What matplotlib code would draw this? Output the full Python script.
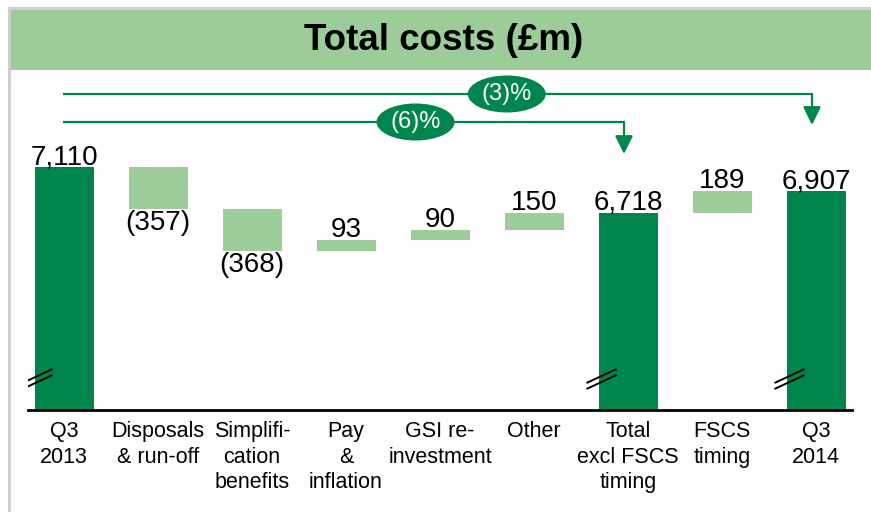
import matplotlib
matplotlib.use("Agg")
import matplotlib.pyplot as plt
from matplotlib.patches import Rectangle, Ellipse

plt.rcParams['font.family'] = ['Liberation Sans', 'DejaVu Sans']

# ---------------- data ----------------
categories = ["Q3\n2013", "Disposals\n& run-off", "Simplifi-\ncation\nbenefits",
              "Pay\n&\ninflation", "GSI re-\ninvestment", "Other",
              "Total\nexcl FSCS\ntiming", "FSCS\ntiming", "Q3\n2014"]
values = [7110, -357, -368, 93, 90, 150, 6718, 189, 6907]
is_total = [True, False, False, False, False, False, True, False, True]
value_labels = ["7,110", "(357)", "(368)", "93", "90", "150", "6,718", "189", "6,907"]
changes = [("(3)%", 0, 8), ("(6)%", 0, 6)]

DARK = "#00854c"
LIGHT = "#9dcd99"
AXIS_MIN = 5000

W, H = 871, 512
fig = plt.figure(figsize=(W / 100, H / 100), dpi=100)
fig.patch.set_facecolor("white")

# frame and title bar
fig.patches.append(Rectangle((8 / W, 0), 3 / W, 505 / H, transform=fig.transFigure,
                             facecolor="#cfcfcf", edgecolor="none", zorder=0))
fig.patches.append(Rectangle((8 / W, (H - 10) / H), (W - 8) / W, 3 / H, transform=fig.transFigure,
                             facecolor="#cfcfcf", edgecolor="none", zorder=0))
fig.patches.append(Rectangle((11 / W, (H - 70) / H), (W - 11) / W, 60 / H, transform=fig.transFigure,
                             facecolor="#9ccc98", edgecolor="none", zorder=1))
fig.text(444 / W, (H - 41) / H, "Total costs (£m)", ha="center", va="center",
         fontsize=26.5, fontweight="bold", color="black")

# axes
ax = fig.add_axes([28 / W, (H - 410) / H, 824 / W, 335 / H])
ax.set_facecolor("none")
px_y = 8.7  # data units per pixel
ax.set_ylim(AXIS_MIN, AXIS_MIN + 335 * px_y)
ax.set_xlim(-36 / 94, 788 / 94)
for s in ["top", "right", "left"]:
    ax.spines[s].set_visible(False)
ax.spines["bottom"].set_linewidth(2)
ax.set_yticks([])
ax.set_xticks(range(len(categories)))
ax.set_xticklabels(categories, fontsize=15.5, linespacing=1.28)
ax.tick_params(axis="x", length=0, pad=8)

bw = 59 / 94
running = 0
offset_pt = 2
for i, (v, tot, lab) in enumerate(zip(values, is_total, value_labels)):
    if tot:
        bottom, top = AXIS_MIN, v
        running = v
        ax.bar(i, v - AXIS_MIN, bottom=AXIS_MIN, width=bw, color=DARK, zorder=2)
    else:
        bottom, top = min(running, running + v), max(running, running + v)
        ax.bar(i, top - bottom, bottom=bottom, width=bw, color=LIGHT, zorder=2)
        running += v
    if tot or v > 0:
        ax.annotate(lab, (i, top), xytext=(0, offset_pt), textcoords="offset points",
                    ha="center", va="baseline", fontsize=20)
    else:
        ax.annotate(lab, (i, bottom), xytext=(0, -1), textcoords="offset points",
                    ha="center", va="top", fontsize=20)

# axis break marks on totals
for i, tot in enumerate(is_total):
    if tot:
        x0 = i - bw / 2 - 12 / 94
        x1 = i - bw / 2 + 18 / 94
        for yb in (27, 21):
            y0 = AXIS_MIN + yb * px_y
            ax.plot([x0, x1], [y0, y0 + 14 * px_y], color="black", lw=1.4, zorder=4,
                    solid_capstyle="butt")

# change arrows
line_levels = [316, 288]   # pixels above axis baseline
tip_levels = [285, 256]
ell_x = [4.71, 3.74]
for (lab, s, e), ly, ty, ex in zip(changes, line_levels, tip_levels, ell_x):
    y = AXIS_MIN + ly * px_y
    ytip = AXIS_MIN + ty * px_y
    xe = e - 4 / 94
    ax.plot([s - 1 / 94, xe], [y, y], color=DARK, lw=1.6, zorder=3, clip_on=False,
            solid_capstyle="butt")
    ax.annotate("", xy=(xe, ytip), xytext=(xe, y),
                arrowprops=dict(arrowstyle="-|>,head_length=0.55,head_width=0.27",
                                mutation_scale=20, color=DARK, lw=1.6,
                                shrinkA=0, shrinkB=0), annotation_clip=False)
    ax.add_patch(Ellipse((ex, y), 78 / 94, 37 * px_y, facecolor=DARK, edgecolor="none",
                         zorder=5, clip_on=False))
    ax.text(ex, y, lab, ha="center", va="center", color="white", fontsize=17, zorder=6)

fig.savefig("out.png", dpi=100)
